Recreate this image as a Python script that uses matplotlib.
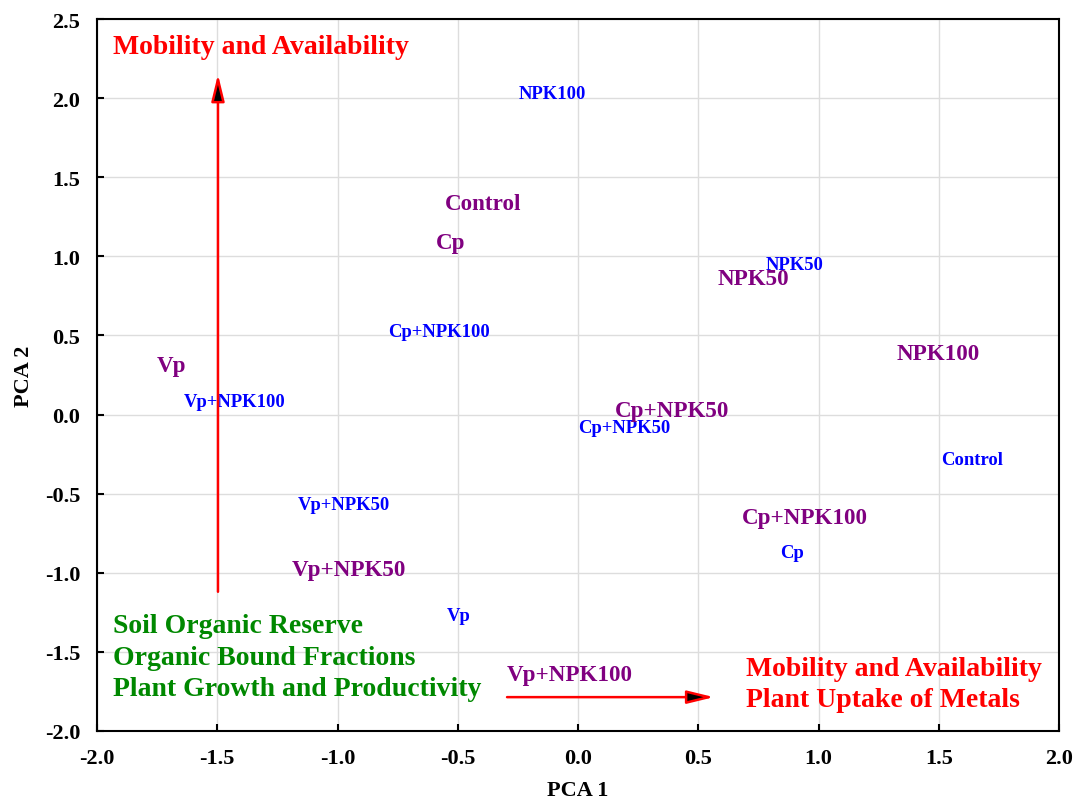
import matplotlib
matplotlib.use('Agg')
import matplotlib.pyplot as plt

plt.rcParams['font.family'] = ['Liberation Serif', 'DejaVu Serif']
plt.rcParams['font.weight'] = 'bold'

# blue (small) labels
blue_labels = ['NPK100', 'NPK50', 'Cp+NPK100', 'Vp+NPK100', 'Cp+NPK50', 'Control', 'Vp+NPK50', 'Cp', 'Vp']
blue_x = [-0.245, 0.782, -0.790, -1.638, 0.0, 1.509, -1.164, 0.840, -0.545]
blue_y = [2.026, 0.951, 0.528, 0.085, -0.079, -0.281, -0.566, -0.869, -1.267]

# purple (large) labels
purple_labels = ['Control', 'Cp', 'NPK50', 'NPK100', 'Vp', 'Cp+NPK50', 'Cp+NPK100', 'Vp+NPK50', 'Vp+NPK100']
purple_x = [-0.553, -0.590, 0.582, 1.326, -1.751, 0.154, 0.682, -1.189, -0.295]
purple_y = [1.337, 1.090, 0.863, 0.389, 0.313, 0.028, -0.648, -0.977, -1.640]

xticks = [-2.0, -1.5, -1.0, -0.5, 0.0, 0.5, 1.0, 1.5, 2.0]
yticks = [-2.0, -1.5, -1.0, -0.5, 0.0, 0.5, 1.0, 1.5, 2.0, 2.5]

fig = plt.figure(figsize=(10.75, 8.03), dpi=100)
ax = fig.add_axes([97/1075, 1 - 732/803, (1059-97)/1075, (732-20)/803])
ax.set_xlim(-2, 2)
ax.set_ylim(-2, 2.5)
ax.set_xticks(xticks)
ax.set_yticks(yticks)
ax.set_xticklabels([f'{v:.1f}' for v in xticks])
ax.set_yticklabels([f'{v:.1f}' for v in yticks])
ax.tick_params(direction='in', labelsize=16, length=5, width=1.5)
ax.tick_params(axis='x', pad=12)
ax.tick_params(axis='y', pad=12)
for s in ax.spines.values():
    s.set_linewidth(1.5)
ax.grid(True, color='#dddddd', lw=1)
ax.set_axisbelow(True)
ax.set_xlabel('PCA 1', fontsize=16, fontweight='bold', labelpad=9)
ax.set_ylabel('PCA 2', fontsize=16, fontweight='bold', labelpad=8)

for lab, x, y in zip(blue_labels, blue_x, blue_y):
    ax.text(x, y, lab, color='#0000ff', fontsize=13.4, fontweight='bold', ha='left', va='center')
for lab, x, y in zip(purple_labels, purple_x, purple_y):
    ax.text(x, y, lab, color='#800080', fontsize=16.6, fontweight='bold', ha='left', va='center')

# arrows
astyle = '-|>,head_length=0.9,head_width=0.22'
ax.annotate('', xy=(-1.497, 2.15), xytext=(-1.497, -1.12),
            arrowprops=dict(arrowstyle=astyle, fc='black', ec='red', lw=1.8, mutation_scale=18,
                            shrinkA=0, shrinkB=0))
ax.annotate('', xy=(0.565, -1.786), xytext=(-0.295, -1.786),
            arrowprops=dict(arrowstyle=astyle, fc='black', ec='red', lw=1.8, mutation_scale=18,
                            shrinkA=0, shrinkB=0))

ax.text(-1.933, 2.329, 'Mobility and Availability', color='#ff0000', fontsize=20,
        fontweight='bold', ha='left', va='center')
ax.text(-1.933, -1.533, 'Soil Organic Reserve\nOrganic Bound Fractions\nPlant Growth and Productivity',
        color='#008800', fontsize=20, fontweight='bold', ha='left', va='center', linespacing=1.35)
ax.text(0.699, -1.704, 'Mobility and Availability\nPlant Uptake of Metals',
        color='#ff0000', fontsize=20, fontweight='bold', ha='left', va='center', linespacing=1.35)

fig.savefig('out.png', dpi=100)
